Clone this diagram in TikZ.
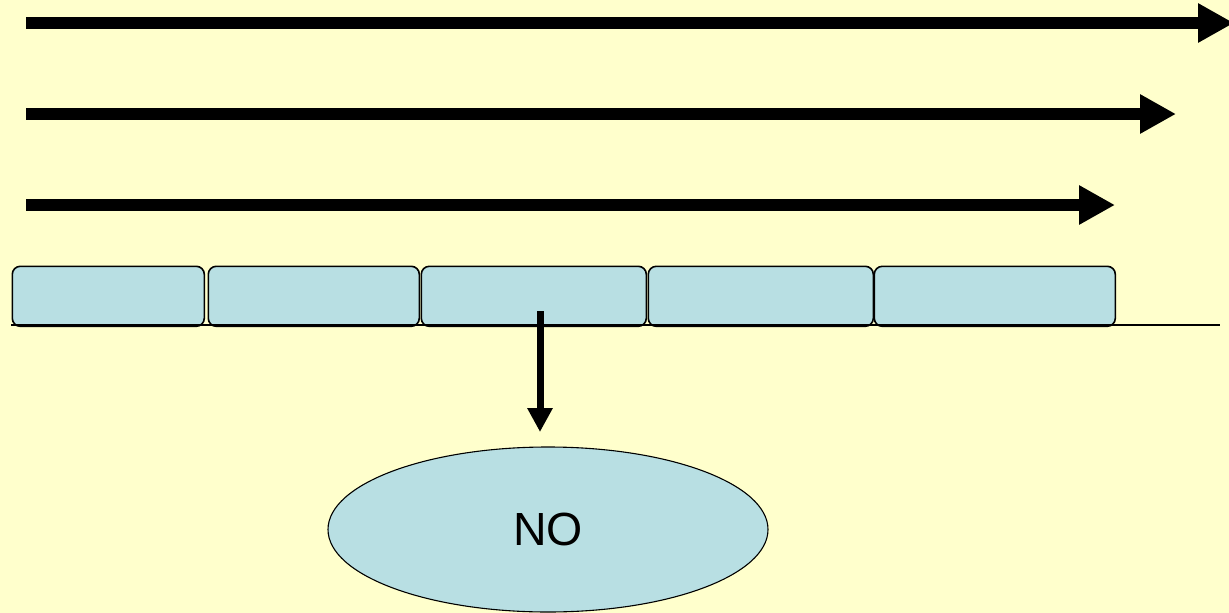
\documentclass[tikz,border=0pt]{standalone}
\usepackage{fontspec}
\setmainfont{Liberation Sans}
\usetikzlibrary{arrows.meta,shapes.geometric}
\definecolor{paper}{HTML}{FFFFCC}
\definecolor{cell}{HTML}{B8DFE3}
\tikzset{
  bigarrow/.style={line width=12pt, -{Triangle[length=36pt,width=37pt]}},
  downarrow/.style={line width=7pt, -{Triangle[length=24pt,width=24pt]}},
  cellbox/.style={draw=black, line width=1.6pt, fill=cell, rounded corners=8pt,
    minimum height=60pt, inner sep=0pt, anchor=north west},
  answer/.style={ellipse, draw=black, line width=1.1pt, fill=cell, inner sep=0pt,
    minimum width=440pt, minimum height=165pt, font=\fontsize{46.5}{50}\selectfont}
}
\begin{document}
\begin{tikzpicture}[x=1pt,y=-1pt]
  \fill[paper] (0,0) rectangle (1229,613);
  \useasboundingbox (0,0) rectangle (1229,613);

  % three timelines of decreasing length
  \coordinate (a1) at (26,23);  \coordinate (b1) at (1234,23);
  \coordinate (a2) at (26,114); \coordinate (b2) at (1176,114);
  \coordinate (a3) at (26,205); \coordinate (b3) at (1115,205);
  \draw[bigarrow] (a1) -- (b1);
  \draw[bigarrow] (a2) -- (b2);
  \draw[bigarrow] (a3) -- (b3);

  % row of cells on the baseline
  \node[cellbox, minimum width=192pt] (c1) at (11.5,265.5) {};
  \node[cellbox, minimum width=211pt] (c2) at (207.5,265.5) {};
  \node[cellbox, minimum width=225pt] (c3) at (420.5,265.5) {};
  \node[cellbox, minimum width=225pt] (c4) at (647.5,265.5) {};
  \node[cellbox, minimum width=241pt] (c5) at (873.5,265.5) {};

  \coordinate (l0) at (11,325);
  \coordinate (l1) at (1220,325);
  \draw[line width=1.5pt] (l0) -- (l1);

  % outcome
  \node[answer] (no) at (548,529.5) {NO};
  \coordinate (d0) at (540,311);
  \coordinate (d1) at (540,432);
  \draw[downarrow] (d0) -- (d1);
\end{tikzpicture}
\end{document}
